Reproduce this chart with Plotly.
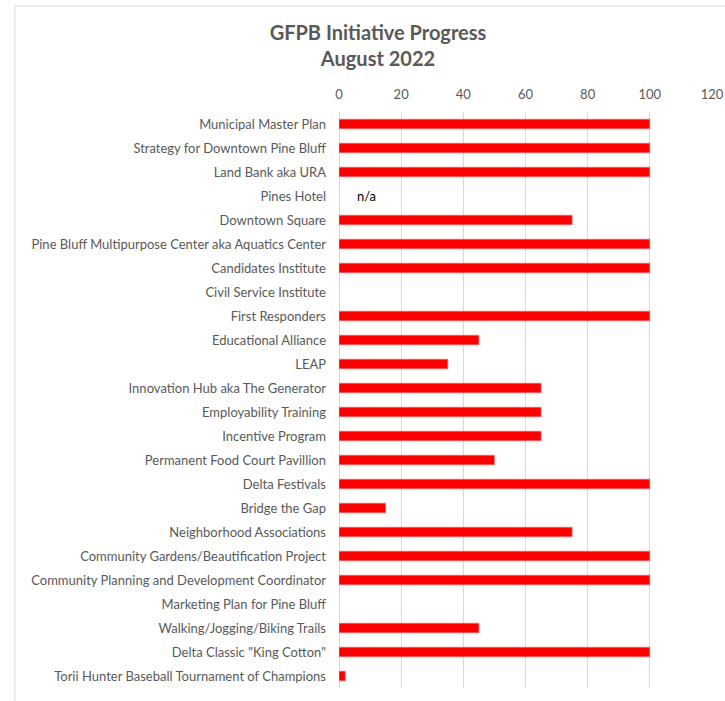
import plotly.graph_objects as go

categories = [
    "Municipal Master Plan",
    "Strategy for Downtown Pine Bluff",
    "Land Bank aka URA",
    "Pines Hotel",
    "Downtown Square",
    "Pine Bluff Multipurpose Center aka Aquatics Center",
    "Candidates Institute",
    "Civil Service Institute",
    "First Responders",
    "Educational Alliance",
    "LEAP",
    "Innovation Hub aka The Generator",
    "Employability Training",
    "Incentive Program",
    "Permanent Food Court Pavillion",
    "Delta Festivals",
    "Bridge the Gap",
    "Neighborhood Associations",
    "Community Gardens/Beautification Project",
    "Community Planning and Development Coordinator",
    "Marketing Plan for Pine Bluff",
    "Walking/Jogging/Biking Trails",
    "Delta Classic \"King Cotton\"",
    "Torii Hunter Baseball Tournament of Champions",
]
progress = [100, 100, 100, None, 75, 100, 100, None, 100, 45, 35, 65, 65, 65,
            50, 100, 15, 75, 100, 100, None, 45, 100, 2]
x_ticks = [0, 20, 40, 60, 80, 100, 120]
na_label = "n/a"
na_category = "Pines Hotel"

FONT = "Lato"
GREY = "#595959"

fig = go.Figure(go.Bar(
    y=categories, x=progress, orientation="h",
    marker=dict(color="#ff0000", line=dict(color="#ff6b6b", width=0.6)),
    hoverinfo="x+y",
))

fig.add_annotation(x=8.7, y=na_category, text=na_label, showarrow=False,
                   font=dict(family=FONT, size=13, color="#000000"),
                   xanchor="center", yanchor="middle")

fig.add_shape(type="rect", xref="paper", yref="paper",
              x0=-0.869, x1=1.06, y0=-0.04, y1=1.184,
              line=dict(color="#d9d9d9", width=1), fillcolor="rgba(0,0,0,0)",
              layer="below")

fig.update_layout(
    width=725, height=701,
    margin=dict(l=339, r=13, t=112, b=13, autoexpand=False),
    paper_bgcolor="white", plot_bgcolor="white",
    bargap=0.6,
    showlegend=False,
    title=dict(text="<b>GFPB Initiative Progress<br>August 2022</b>",
               x=378/725, xref="container", xanchor="center",
               y=1 - 40/701, yref="container", yanchor="top",
               font=dict(family=FONT, size=20, color=GREY)),
    font=dict(family=FONT, size=13, color=GREY),
    xaxis=dict(side="top", range=[0, 120], tickvals=x_ticks,
               showgrid=True, gridcolor="#d9d9d9", gridwidth=1,
               zeroline=True, zerolinecolor="#d9d9d9", zerolinewidth=1,
               showline=False, ticks="", tickfont=dict(size=13, color=GREY),
               ticklabelstandoff=9, fixedrange=True, automargin=False),
    yaxis=dict(autorange="reversed", showgrid=False, showline=False,
               ticks="", tickfont=dict(size=13, color=GREY),
               ticklabelstandoff=12, fixedrange=True, automargin=False),
)

fig.write_html("out.html",
               config={"displayModeBar": False},
               post_script="document.body.style.margin='0';document.body.style.overflow='hidden';")
